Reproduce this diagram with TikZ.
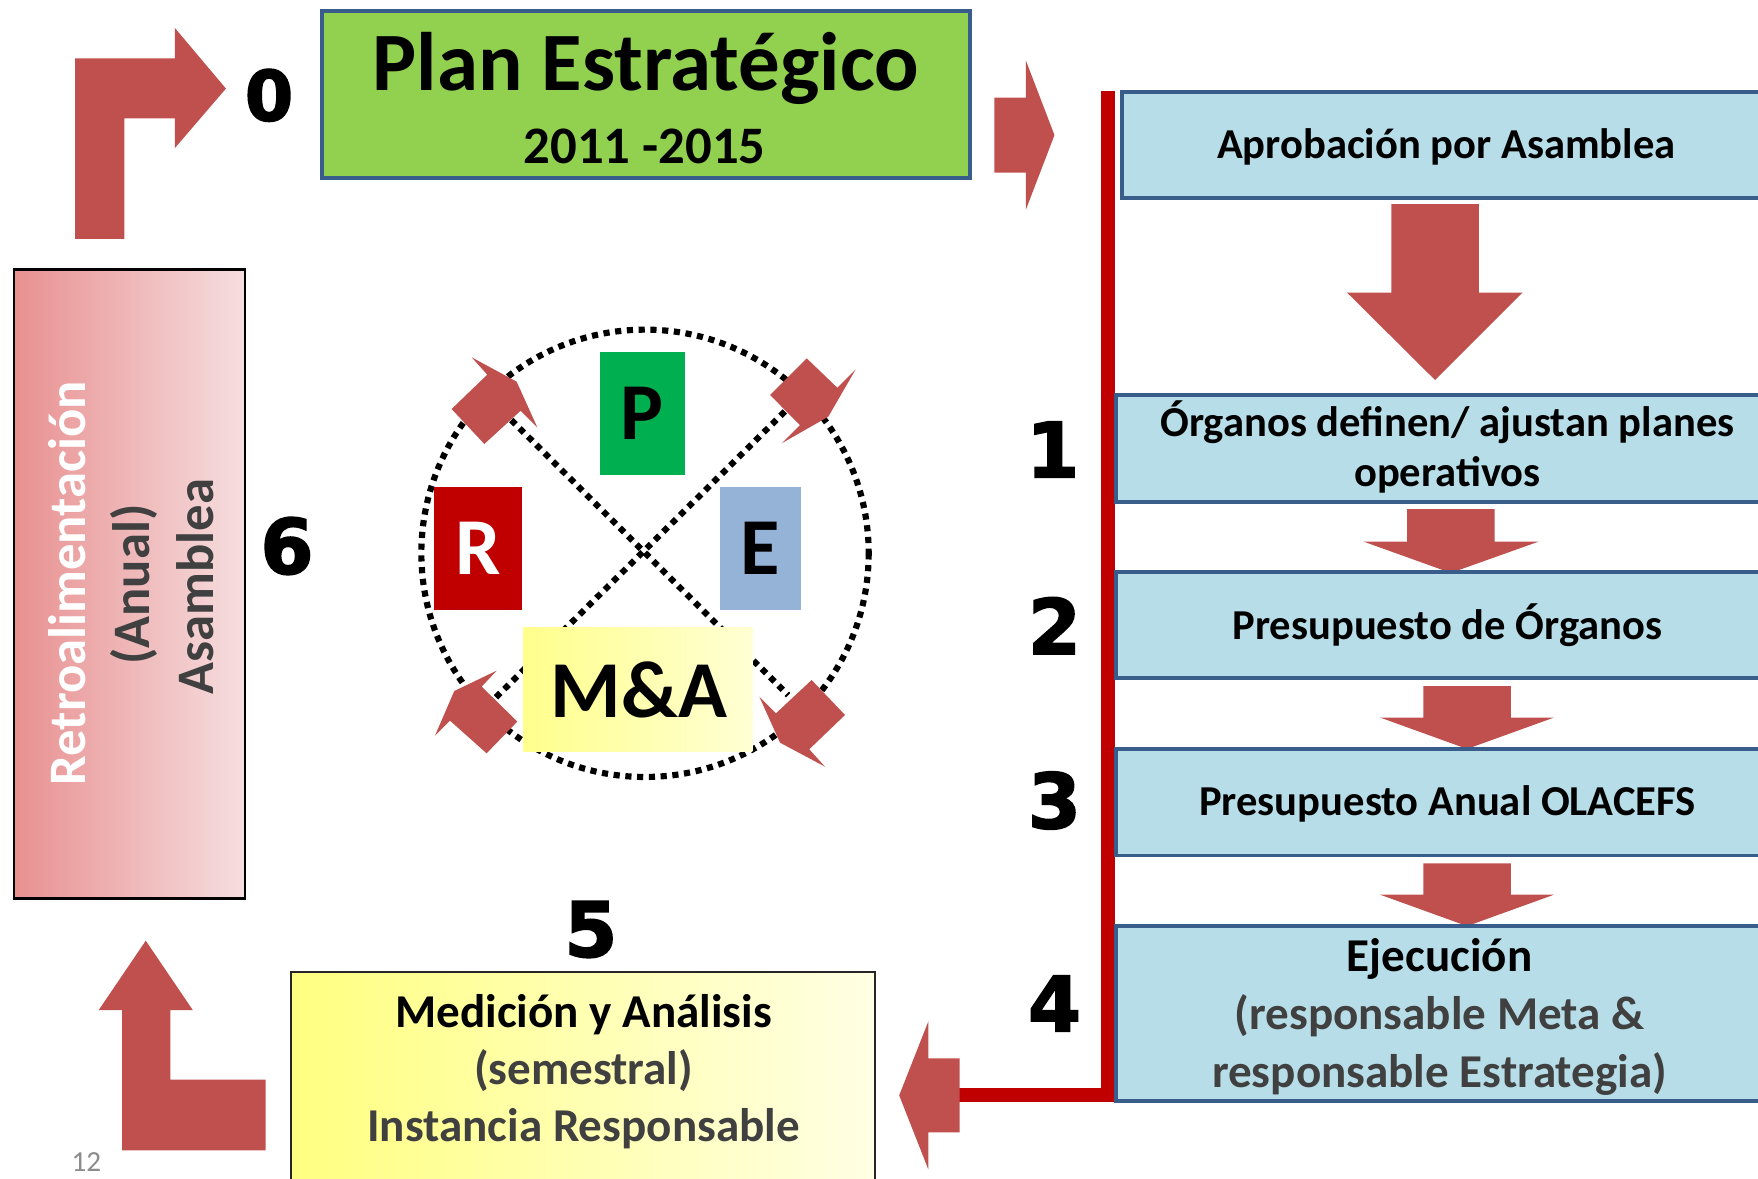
\documentclass[tikz,border=0pt]{standalone}
\usepackage{fontspec}
\setmainfont{Carlito}
\newfontfamily\numfont{DejaVu Sans}[BoldFeatures={FakeBold=2.2}]
\definecolor{arrowred}{HTML}{C0504D}
\definecolor{boxblue}{HTML}{B7DEE8}
\definecolor{borderblue}{HTML}{385D8A}
\definecolor{plangreen}{HTML}{92D050}
\definecolor{linered}{HTML}{C00000}
\definecolor{pgreen}{HTML}{00B050}
\definecolor{rred}{HTML}{C00000}
\definecolor{eblue}{HTML}{95B3D7}
\definecolor{txtgray}{HTML}{404040}
\definecolor{pagegray}{HTML}{8C8C8C}
\definecolor{retroL}{HTML}{E89090}
\definecolor{retroR}{HTML}{F6DEE0}
\definecolor{yelL}{HTML}{FFFF80}
\definecolor{yelR}{HTML}{FFFFE4}
\definecolor{maL}{HTML}{FFFF8C}
\definecolor{maR}{HTML}{FFFFD4}
\begin{document}
\begin{tikzpicture}[x=1pt,y=-1pt,
  blockarrow/.style={fill=arrowred, draw=none},
  bluebox/.style={draw=borderblue, line width=3.5pt, fill=boxblue, inner sep=0pt, outer sep=0pt, anchor=north west, minimum width=620pt},
  boxtext/.style={font=\fontsize{38}{45}\selectfont\bfseries, anchor=base, inner sep=0pt},
  bigtext/.style={font=\fontsize{42}{50}\selectfont\bfseries, anchor=base, inner sep=0pt},
  bignum/.style={font=\numfont\bfseries\fontsize{68}{70}\selectfont, inner sep=0pt, anchor=center},
  dotline/.style={line width=5.5pt, dash pattern=on 5.5pt off 5pt},
  letterbox/.style={inner sep=0pt, outer sep=0pt, anchor=north west},
  letter/.style={font=\fontsize{72}{76}\selectfont\bfseries, inner sep=0pt, anchor=center},
  retrotext/.style={rotate=90, anchor=base, inner sep=0pt, font=\fontsize{47}{57}\selectfont\bfseries},
]
\useasboundingbox (0,0) rectangle (1568,1051);
\clip (0,0) rectangle (1568,1051);
\fill[white] (0,0) rectangle (1568,1051);

% ---- top left elbow arrow and 0
\fill[blockarrow] (67,213) -- (67,52) -- (156,52) -- (156,25) -- (201.5,79) -- (156,132) -- (156,105.5) -- (111,105.5) -- (111,213) -- cycle;
\node[bignum, font=\numfont\bfseries\fontsize{62}{64}\selectfont] (n0) at (240,85) {0};

% ---- Plan box
\node[draw=borderblue, line width=3.5pt, fill=plangreen, inner sep=0pt, outer sep=0pt, anchor=north west, minimum width=578pt, minimum height=149pt] (plan) at (287,10) {};
\node[font=\fontsize{74}{80}\selectfont\bfseries, anchor=base, inner sep=0pt] (plantitle) at (576,81) {Plan Estratégico};
\node[font=\fontsize{47}{50}\selectfont\bfseries, anchor=base, inner sep=0pt] (planyears) at (575,146) {2011 -2015};

% ---- right arrow after plan
\fill[blockarrow] (887,87) -- (915,87) -- (915,54) -- (940.5,120.5) -- (915,187) -- (915,154) -- (887,154) -- cycle;

% ---- red bracket line
\coordinate (redtop) at (988.5,81);
\coordinate (redcorner) at (988.5,977);
\coordinate (redend) at (855,977);
\draw[linered, line width=12.5pt, line join=miter] (redtop) -- (redcorner) -- (redend);

% ---- right column boxes
\node[bluebox, minimum height=95pt] (aprob) at (1001,82) {};
\node[boxtext] (aprobt) at (1290,141) {Aprobación por Asamblea};
\fill[blockarrow] (1241,182) -- (1319,182) -- (1319,261) -- (1358,261) -- (1280,339) -- (1201.5,261) -- (1241,261) -- cycle;

\node[bluebox, minimum height=96pt] (organos) at (995,352) {};
\node[boxtext] (organost1) at (1291,389.5) {Órganos definen/ ajustan planes};
\node[boxtext] (organost2) at (1291,434) {operativos};
\fill[blockarrow] (1255,454) -- (1333,454) -- (1333,483) -- (1372.5,483) -- (1294,511) -- (1216,483) -- (1255,483) -- cycle;

\node[bluebox, minimum height=95pt] (presorg) at (995,510) {};
\node[boxtext] (presorgt) at (1291,570.5) {Presupuesto de Órganos};
\fill[blockarrow] (1269.5,612) -- (1347.5,612) -- (1347.5,640) -- (1386,640) -- (1308.5,668) -- (1231,640) -- (1269.5,640) -- cycle;

\node[bluebox, minimum height=95pt] (anual) at (995,668) {};
\node[boxtext] (anualt) at (1291,727) {Presupuesto Anual OLACEFS};
\fill[blockarrow] (1269.5,770) -- (1347.5,770) -- (1347.5,798) -- (1386,798) -- (1308.5,826) -- (1231,798) -- (1269.5,798) -- cycle;

\node[bluebox, minimum height=156pt] (ejec) at (995,826) {};
\node[bigtext] (eject1) at (1284,866.5) {Ejecución};
\node[bigtext, text=txtgray] (eject2) at (1284,918.5) {(responsable Meta \&};
\node[bigtext, text=txtgray] (eject3) at (1284,970) {responsable Estrategia)};

% ---- numbers
\node[bignum] (n1) at (939,401) {1};
\node[bignum] (n2) at (940.5,558) {2};
\node[bignum] (n3) at (940.5,714) {3};
\node[bignum] (n4) at (940.5,895) {4};
\node[bignum] (n5) at (527,829) {5};
\node[bignum] (n6) at (256,487) {6};

% ---- left arrow into Medicion
\fill[blockarrow] (856,944) -- (856,1010) -- (828,1010) -- (828,1043) -- (802,977) -- (828,911) -- (828,944) -- cycle;

% ---- Medicion box
\node[draw=black!85, line width=1.8pt, left color=yelL, right color=yelR, inner sep=0pt, outer sep=0pt, anchor=north west, minimum width=521pt, minimum height=200pt] (medic) at (259.5,867) {};
\node[bigtext] (medict1) at (520.5,916.5) {Medición y Análisis};
\node[bigtext, text=txtgray] (medict2) at (520.5,967.5) {(semestral)};
\node[bigtext, text=txtgray] (medict3) at (520.5,1018.5) {Instancia Responsable};

% ---- bottom left elbow arrow
\fill[blockarrow] (237,1026) -- (109,1026) -- (109,901) -- (88,901) -- (130,839) -- (172,901) -- (152,901) -- (152,963) -- (237,963) -- cycle;
\node[font=\fontsize{26}{28}\selectfont, text=pagegray, anchor=base, inner sep=0pt] (pagenum) at (77,1045) {12};

% ---- Retroalimentacion box
\node[draw=black, line width=2.5pt, left color=retroL, right color=retroR, inner sep=0pt, outer sep=0pt, anchor=north west, minimum width=206pt, minimum height=561pt] (retro) at (12.5,240.5) {};
\node[retrotext, text=white] (retro1) at (76,520) {Retroalimentación};
\node[retrotext, text=txtgray] (retro2) at (133,521.5) {(Anual)};
\node[retrotext, text=txtgray] (retro3) at (190,523) {Asamblea};

% ---- PERMA circle
\coordinate (cc) at (575.3,493.5);
\draw[dotline] (cc) circle (199.5);
\coordinate (dA) at (456,374.6);
\coordinate (dB) at (703,620);
\coordinate (dC) at (700,367);
\coordinate (dD) at (441.5,622.8);
\draw[dotline] (dA) -- (dB);
\draw[dotline] (dC) -- (dD);

\node[letterbox, fill=pgreen, minimum width=76pt, minimum height=110pt] (boxP) at (535,314) {};
\node[letter] (letP) at (boxP.center) {P};
\node[letterbox, fill=rred, minimum width=79pt, minimum height=110pt] (boxR) at (387,434) {};
\node[letter, text=white] (letR) at (boxR.center) {R};
\node[letterbox, fill=eblue, minimum width=72pt, minimum height=110pt] (boxE) at (642,434) {};
\node[letter] (letE) at (boxE.center) {E};
\node[letterbox, left color=maL, right color=maR, minimum width=204pt, minimum height=110pt] (boxMA) at (467,560) {};
\node[letter] (letMA) at (570,615) {M\&A};

% ---- small curved-flow arrows
\fill[blockarrow] (402.8,364.8) -- (434.6,334.2) -- (420.7,318.7) -- (460.8,340.4) -- (479.2,381.1) -- (464.4,366.3) -- (432,396) -- cycle;
\fill[blockarrow] (686.8,352.3) -- (719.5,319.6) -- (746.8,345.8) -- (763.2,329.4) -- (738.8,371.6) -- (697.2,395.4) -- (713.5,379.1) -- cycle;
\fill[blockarrow] (443,598.2) -- (429.6,612.4) -- (461.4,643.6) -- (434,671.9) -- (401.4,642.8) -- (388,656.1) -- (405.2,616.3) -- cycle;
\fill[blockarrow] (723.9,606.5) -- (753.7,637.7) -- (721.8,668.3) -- (735.8,683.8) -- (695.7,662.4) -- (677.3,621.4) -- (692.1,636.2) -- cycle;
\end{tikzpicture}
\end{document}
